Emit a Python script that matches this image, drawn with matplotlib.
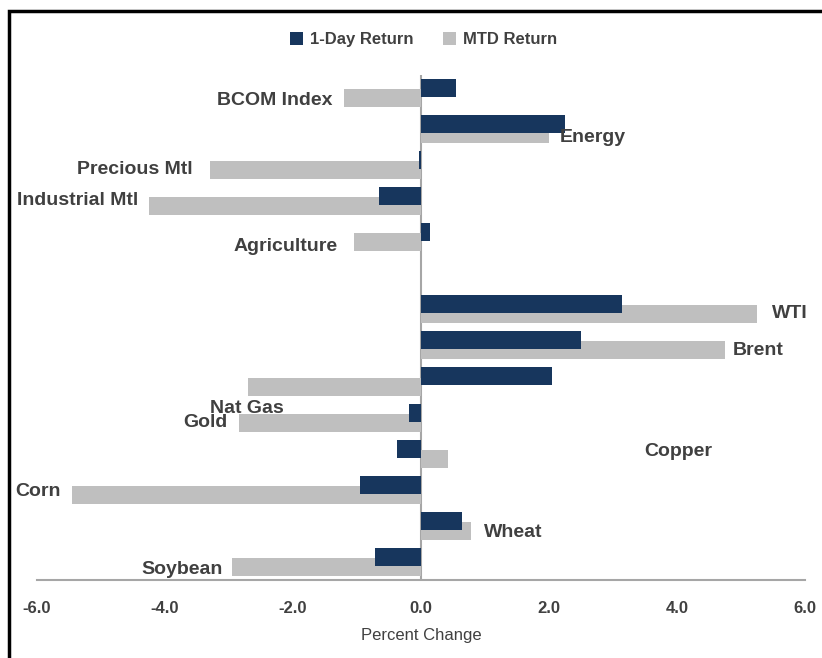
import numpy as np
import matplotlib.pyplot as plt
from matplotlib.patches import Rectangle

plt.rcParams['font.family'] = ['Liberation Sans Narrow', 'Liberation Sans', 'DejaVu Sans']

# categories top to bottom ("" is the empty gap row)
categories = ["BCOM Index", "Energy", "Precious Mtl", "Industrial Mtl", "Agriculture", "",
              "WTI", "Brent", "Nat Gas", "Gold", "Copper", "Corn", "Wheat", "Soybean"]
one_day = [0.55, 2.25, -0.03, -0.65, 0.15, 0.0,
           3.15, 2.5, 2.05, -0.18, -0.38, -0.95, 0.65, -0.72]
mtd = [-1.2, 2.0, -3.3, -4.25, -1.05, 0.0,
       5.25, 4.75, -2.7, -2.85, 0.42, -5.45, 0.78, -2.95]

# where the labels sit (data coords), as in the original
label_x = [-2.28, 2.69, -4.47, -5.36, -2.12, None,
           5.77, 5.27, -2.72, -3.37, 4.03, -5.98, 1.44, -3.73]
label_y = [12.79, 11.77, 10.86, 10.01, 8.74, None,
           6.87, 5.87, 4.25, 3.87, 3.07, 1.94, 0.81, -0.21]

navy = "#17365D"
grey = "#BFBFBF"
txt = "#404040"

fig = plt.figure(figsize=(8.22, 6.58), dpi=100)
ax = fig.add_axes([0.045, 0.1185, 0.934, 0.768])

y = np.arange(len(categories))[::-1].astype(float)
h = 0.5
ax.barh(y - 0.14, mtd, height=h, color=grey, label="MTD Return", zorder=2)
ax.barh(y + 0.14, one_day, height=h, color=navy, label="1-Day Return", zorder=3)

for name, lx, ly in zip(categories, label_x, label_y):
    if name:
        ax.text(lx, ly, name, ha='center', va='center', fontsize=14,
                fontweight='bold', color=txt, zorder=4)

ax.set_xlim(-6, 6)
ax.set_ylim(-0.5, 13.5)
ax.set_xticks([-6, -4, -2, 0, 2, 4, 6])
ax.set_xticklabels(["%.1f" % v for v in [-6, -4, -2, 0, 2, 4, 6]])
ax.set_yticks([])
ax.tick_params(axis='x', length=0, pad=15, labelsize=12, labelcolor=txt)
for lab in ax.get_xticklabels():
    lab.set_fontweight('bold')
ax.set_xlabel("Percent Change", fontsize=12, color=txt, labelpad=9)

for s in ['top', 'right', 'left']:
    ax.spines[s].set_visible(False)
ax.spines['bottom'].set_color('#A6A6A6')
ax.spines['bottom'].set_linewidth(1.5)
ax.axvline(0, color='#A6A6A6', lw=1.5, zorder=1)

handles, labels = ax.get_legend_handles_labels()
fig.legend(handles[::-1], labels[::-1], loc='center', bbox_to_anchor=(0.515, 0.94),
           ncol=2, frameon=False, handlelength=0.8, handleheight=0.8,
           handletextpad=0.4, columnspacing=1.8,
           prop={'weight': 'bold', 'size': 12})
for t in fig.legends[0].get_texts():
    t.set_color(txt)

# frame left and top like the cropped screenshot
fig.add_artist(Rectangle((9 / 822, -0.1), 1.2, 1.1 - 11 / 658, transform=fig.transFigure,
                         fill=False, edgecolor='black', lw=2.5))

fig.savefig("out.png", dpi=100)
